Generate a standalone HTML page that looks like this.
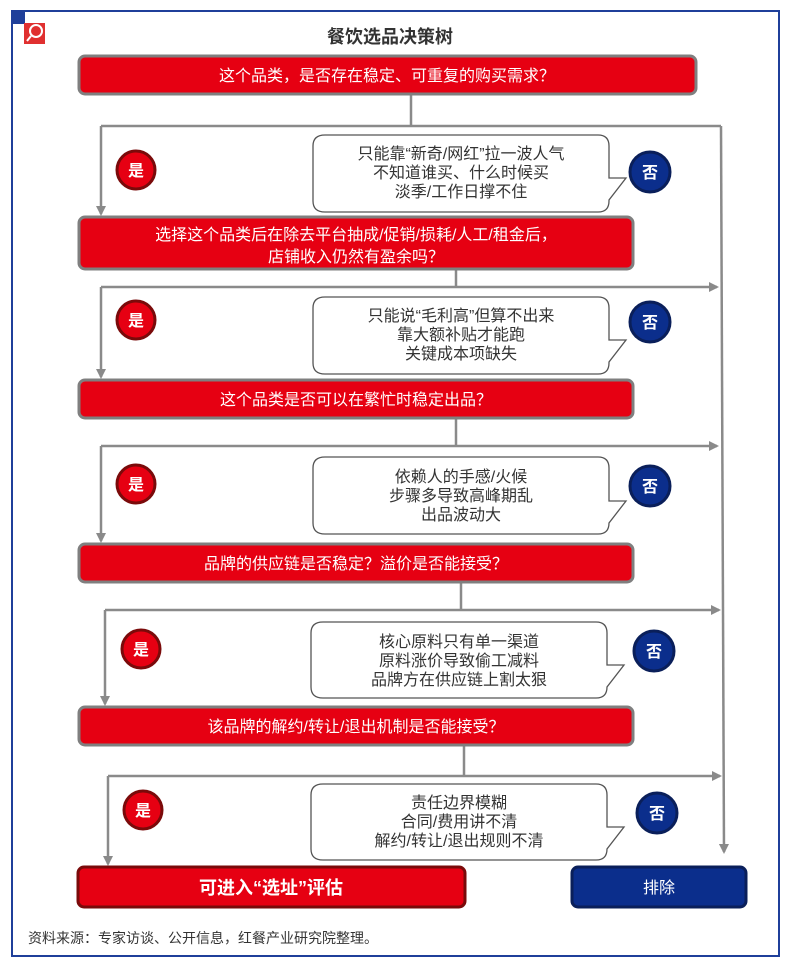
<!DOCTYPE html>
<html><head><meta charset="utf-8"><style>
body{margin:0;background:#fff;}
svg text{font-family:"Liberation Sans","Noto Sans CJK SC",sans-serif;}
</style></head><body>
<svg width="792" height="966" viewBox="0 0 792 966" xmlns="http://www.w3.org/2000/svg">
<defs>
<marker id="ar" markerWidth="10" markerHeight="10" refX="8" refY="5" orient="auto" markerUnits="userSpaceOnUse">
<path d="M0,0 L10,5 L0,10 Z" fill="#8a8a8a"/></marker>
</defs>
<rect x="0" y="0" width="792" height="966" fill="#fff"/>
<rect x="12" y="11" width="767" height="945" fill="none" stroke="#1f3f9a" stroke-width="2"/>
<rect x="12" y="11" width="13" height="13" fill="#1f3f9a"/>
<rect x="24" y="23" width="21" height="21" fill="#e03030"/>
<circle cx="36" cy="31" r="6" fill="none" stroke="#fff" stroke-width="2"/>
<line x1="31" y1="36" x2="27" y2="41" stroke="#fff" stroke-width="2"/>
<text x="390" y="43" font-size="18" font-weight="bold" fill="#333" text-anchor="middle">餐饮选品决策树</text>

<g stroke="#8a8a8a" stroke-width="2.5" fill="none">
<line x1="411" y1="95" x2="411" y2="126"/>
<line x1="101" y1="126" x2="721" y2="126"/>
<line x1="721" y1="126" x2="724" y2="852" marker-end="url(#ar)"/>
<line x1="101" y1="126" x2="101" y2="214" marker-end="url(#ar)"/>
<line x1="456" y1="270" x2="456" y2="287"/>
<line x1="101" y1="287" x2="717" y2="287" marker-end="url(#ar)"/>
<line x1="101" y1="287" x2="101" y2="377" marker-end="url(#ar)"/>
<line x1="456" y1="418" x2="456" y2="446"/>
<line x1="101" y1="446" x2="717" y2="446" marker-end="url(#ar)"/>
<line x1="101" y1="446" x2="101" y2="541" marker-end="url(#ar)"/>
<line x1="461" y1="582" x2="461" y2="610"/>
<line x1="105" y1="610" x2="719" y2="610" marker-end="url(#ar)"/>
<line x1="105" y1="610" x2="105" y2="704" marker-end="url(#ar)"/>
<line x1="464" y1="745" x2="464" y2="776"/>
<line x1="108" y1="776" x2="720" y2="776" marker-end="url(#ar)"/>
<line x1="108" y1="776" x2="108" y2="864" marker-end="url(#ar)"/>
</g>

<g fill="#e60012" stroke="#7f7f7f" stroke-width="3">
<rect x="79" y="56" width="617" height="38" rx="6"/>
<rect x="79" y="217" width="554" height="52" rx="6"/>
<rect x="79" y="380" width="554" height="38" rx="6"/>
<rect x="79" y="544" width="554" height="38" rx="6"/>
<rect x="79" y="707" width="554" height="38" rx="6"/>
</g>
<rect x="78" y="867" width="387" height="40" rx="6" fill="#e60012" stroke="#7a0a0a" stroke-width="3"/>
<rect x="572" y="867" width="174" height="40" rx="6" fill="#0b2e8c" stroke="#0a1f5a" stroke-width="3"/>

<g fill="#fff" font-size="16" text-anchor="middle">
<text x="387" y="81">这个品类，是否存在稳定、可重复的购买需求？</text>
<text x="356" y="240">选择这个品类后在除去平台抽成/促销/损耗/人工/租金后，</text>
<text x="356" y="262">店铺收入仍然有盈余吗？</text>
<text x="356" y="405">这个品类是否可以在繁忙时稳定出品？</text>
<text x="356" y="569">品牌的供应链是否稳定？溢价是否能接受？</text>
<text x="356" y="732">该品牌的解约/转让/退出机制是否能接受？</text>
<text x="271" y="894" font-size="18" font-weight="bold">可进入“选址”评估</text>
<text x="659" y="893" font-size="16">排除</text>
</g>

<g fill="#fff" stroke="#555" stroke-width="1.3">
<path d="M325,135 H598 Q609,135 609,146 V178 L626,178 L609,200 V201 Q609,212 598,212 H325 Q313,212 313,201 V146 Q313,135 325,135 Z"/>
<path d="M325,297 H598 Q609,297 609,308 V340 L626,340 L609,362 V363 Q609,374 598,374 H325 Q313,374 313,363 V308 Q313,297 325,297 Z"/>
<path d="M325,457 H598 Q609,457 609,468 V501 L626,501 L609,523 V523 Q609,534 598,534 H325 Q313,534 313,523 V468 Q313,457 325,457 Z"/>
<path d="M323,622 H596 Q607,622 607,633 V665 L624,665 L607,687 V687 Q607,698 596,698 H323 Q311,698 311,687 V633 Q311,622 323,622 Z"/>
<path d="M323,784 H596 Q607,784 607,795 V827 L624,827 L607,849 V849 Q607,860 596,860 H323 Q311,860 311,849 V795 Q311,784 323,784 Z"/>
</g>

<g fill="#333" font-size="16" text-anchor="middle">
<text x="461" y="159">只能靠“新奇/网红”拉一波人气</text>
<text x="461" y="178">不知道谁买、什么时候买</text>
<text x="461" y="197">淡季/工作日撑不住</text>
<text x="461" y="321">只能说“毛利高”但算不出来</text>
<text x="461" y="340">靠大额补贴才能跑</text>
<text x="461" y="359">关键成本项缺失</text>
<text x="461" y="482">依赖人的手感/火候</text>
<text x="461" y="501">步骤多导致高峰期乱</text>
<text x="461" y="520">出品波动大</text>
<text x="459" y="647">核心原料只有单一渠道</text>
<text x="459" y="666">原料涨价导致偷工减料</text>
<text x="459" y="685">品牌方在供应链上割太狠</text>
<text x="459" y="808">责任边界模糊</text>
<text x="459" y="827">合同/费用讲不清</text>
<text x="459" y="846">解约/转让/退出规则不清</text>
</g>

<g fill="#e60012" stroke="#7a0a0a" stroke-width="3">
<circle cx="136" cy="170" r="19"/>
<circle cx="136" cy="320" r="19"/>
<circle cx="136" cy="484" r="19"/>
<circle cx="141" cy="649" r="19"/>
<circle cx="143" cy="810" r="19"/>
</g>
<g fill="#0b2e8c" stroke="#0a1f5a" stroke-width="3">
<circle cx="650" cy="172" r="20"/>
<circle cx="650" cy="322" r="20"/>
<circle cx="650" cy="486" r="20"/>
<circle cx="654" cy="651" r="20"/>
<circle cx="657" cy="813" r="20"/>
</g>
<g fill="#fff" font-size="16" font-weight="bold" text-anchor="middle">
<text x="136" y="176">是</text><text x="136" y="326">是</text><text x="136" y="490">是</text><text x="141" y="655">是</text><text x="143" y="816">是</text>
<text x="650" y="178">否</text><text x="650" y="328">否</text><text x="650" y="492">否</text><text x="654" y="657">否</text><text x="657" y="819">否</text>
</g>

<text x="28" y="943" font-size="14" fill="#333">资料来源：专家访谈、公开信息，红餐产业研究院整理。</text>
</svg>
</body></html>
